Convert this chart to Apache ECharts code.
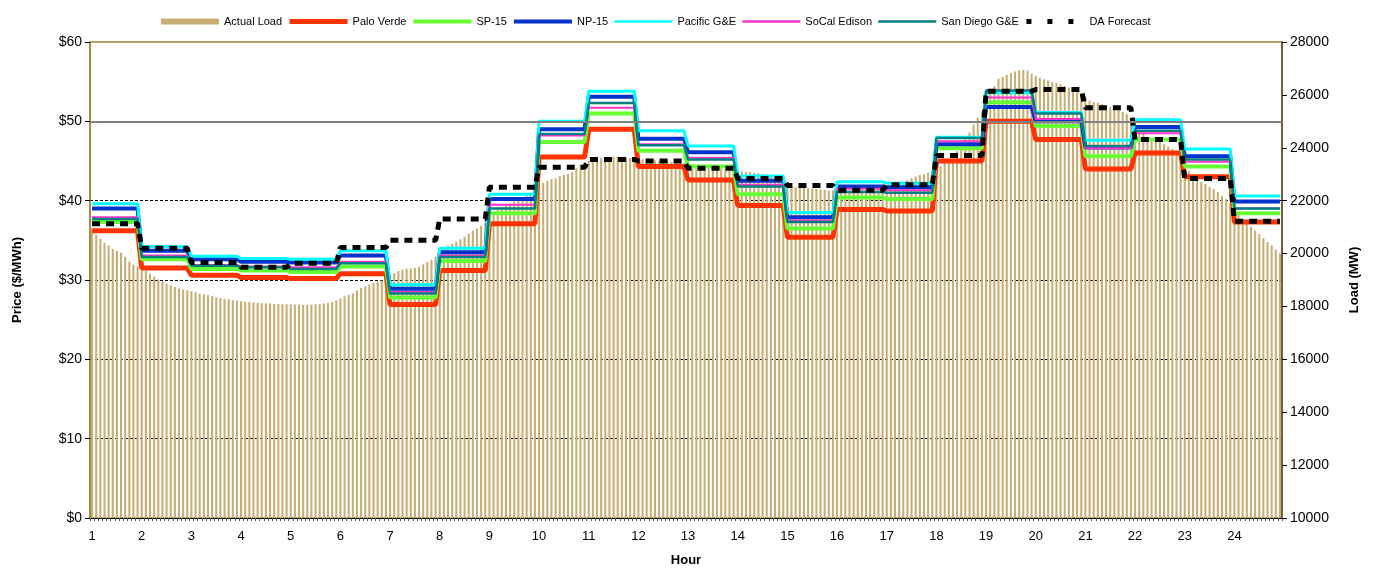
<!DOCTYPE html>
<html>
<head>
<meta charset="utf-8">
<script src="https://cdn.jsdelivr.net/npm/echarts@6/dist/echarts.min.js"></script>
<style>
  html, body { margin: 0; padding: 0; background: #fff; }
  #chart { width: 1377px; height: 572px; }
</style>
</head>
<body>
<div id="chart"></div>
<script>
// hour tick labels; load is sampled every 5 minutes (12 bars per hour)
const hours = [1, 2, 3, 4, 5, 6, 7, 8, 9, 10, 11, 12, 13, 14, 15, 16, 17, 18, 19, 20, 21, 22, 23, 24];

// Actual Load (MW), 12 readings per hour
const actualLoad = [
  20940, 20710, 20560, 20410, 20300, 20180, 20110, 20030, 19880, 19700, 19580, 19510,
  19430, 19340, 19240, 19130, 19020, 18940, 18870, 18790, 18740, 18680, 18640, 18610,
  18580, 18540, 18490, 18460, 18430, 18390, 18340, 18320, 18290, 18270, 18240, 18220,
  18200, 18180, 18170, 18150, 18140, 18120, 18120, 18110, 18100, 18090, 18080, 18080,
  18080, 18070, 18070, 18060, 18060, 18070, 18080, 18090, 18110, 18130, 18170, 18230,
  18300, 18380, 18440, 18490, 18610, 18700, 18760, 18830, 18890, 18930, 18980, 19060,
  19170, 19260, 19340, 19390, 19430, 19430, 19460, 19500, 19590, 19680, 19770, 19880,
  20000, 20150, 20300, 20370, 20450, 20540, 20640, 20750, 20860, 20950, 21050, 21160,
  21350, 21500, 21650, 21760, 21840, 21890, 21970, 22040, 22120, 22190, 22290, 22400,
  22590, 22680, 22750, 22810, 22850, 22920, 22970, 23010, 23080, 23230, 23360, 23440,
  23500, 23560, 23590, 23620, 23630, 23640, 23650, 23650, 23640, 23630, 23620, 23600,
  23590, 23570, 23550, 23530, 23530, 23510, 23490, 23490, 23470, 23450, 23430, 23420,
  23400, 23380, 23360, 23340, 23320, 23300, 23280, 23270, 23230, 23190, 23170, 23150,
  23120, 23100, 23080, 23080, 23060, 23040, 23020, 23000, 22970, 22890, 22780, 22660,
  22570, 22550, 22530, 22510, 22500, 22480, 22460, 22440, 22420, 22400, 22380, 22380,
  22380, 22380, 22380, 22380, 22380, 22400, 22400, 22420, 22440, 22460, 22480, 22500,
  22510, 22550, 22590, 22650, 22700, 22780, 22850, 22910, 22970, 23000, 23060, 23120,
  23190, 23300, 23420, 23530, 23680, 23870, 24050, 24320, 24580, 24880, 25140, 25370,
  25670, 26050, 26330, 26610, 26690, 26750, 26830, 26880, 26930, 26950, 26920, 26800,
  26710, 26650, 26590, 26550, 26490, 26450, 26400, 26340, 26280, 26220, 26110, 26070,
  25930, 25790, 25730, 25700, 25650, 25590, 25550, 25500, 25440, 25350, 25280, 25110,
  24810, 24660, 24520, 24410, 24340, 24280, 24220, 24130, 24040, 23950, 23860, 23720,
  23450, 23120, 22970, 22830, 22720, 22630, 22530, 22440, 22330, 22190, 22060, 21910,
  21690, 21460, 21270, 21140, 21010, 20870, 20730, 20580, 20440, 20310, 20150, 20000
];

// hourly prices ($/MWh)
const paloVerde   = [36.2, 31.5, 30.6, 30.3, 30.2, 30.8, 26.9, 31.2, 37.1, 45.5, 49.0, 44.3, 42.6, 39.4, 35.4, 38.9, 38.7, 45.0, 50.0, 47.7, 44.0, 46.0, 43.0, 37.3];
const sp15        = [37.3, 32.6, 31.4, 31.2, 31.0, 31.7, 27.8, 32.4, 38.4, 47.4, 51.0, 46.3, 44.3, 40.8, 36.5, 40.4, 40.2, 46.6, 52.4, 49.4, 45.6, 47.7, 44.3, 38.4];
const np15        = [39.0, 33.7, 32.6, 32.3, 32.2, 33.1, 28.9, 33.5, 40.2, 49.0, 53.1, 47.8, 46.1, 42.5, 37.9, 41.8, 41.7, 47.1, 51.8, 50.0, 46.7, 49.3, 45.6, 39.9];
const pacificGE   = [39.6, 34.2, 33.0, 32.7, 32.6, 33.7, 29.4, 34.0, 40.8, 50.0, 53.8, 48.8, 46.9, 43.1, 38.5, 42.4, 42.2, 48.0, 53.6, 51.1, 47.6, 50.2, 46.5, 40.6];
const socalEdison = [37.9, 33.1, 31.9, 31.7, 31.6, 32.3, 28.5, 33.1, 39.5, 48.2, 51.7, 47.1, 45.4, 42.0, 37.5, 41.5, 41.3, 47.5, 53.0, 50.3, 46.6, 48.5, 44.9, 39.0];
const sanDiegoGE  = [37.7, 32.9, 31.8, 31.6, 31.4, 32.1, 28.3, 32.9, 39.0, 48.4, 52.3, 47.0, 45.2, 41.8, 37.3, 41.1, 41.0, 47.9, 53.9, 51.0, 46.9, 48.8, 45.2, 39.0];
const daForecast  = [37.1, 34.0, 32.2, 31.6, 32.1, 34.1, 35.0, 37.7, 41.7, 44.2, 45.2, 45.0, 44.1, 42.8, 41.9, 41.3, 42.0, 45.7, 53.8, 54.0, 51.7, 47.7, 42.8, 37.4];

const PER_HOUR = 12;
const categories = actualLoad.map((_, i) => String(hours[Math.floor(i / PER_HOUR)]));
// an hourly price holds for all 12 five-minute slots of its hour
const toSlots = (hourly) => hourly.flatMap((v) => Array(PER_HOUR).fill(v));

const FONT = "Liberation Sans, Arial, sans-serif";
const DASH = [8, 6];

const priceLine = (name, data, color, width, extra = {}) => ({
  name,
  type: "line",
  yAxisIndex: 0,
  data: toSlots(data),
  symbol: "none",
  lineStyle: { color, width, ...extra },
  itemStyle: { color },
  emphasis: { disabled: true },
});

// line legend entries: keep the line sample at its own width, hide the marker
const lineKey = (name, width, extra = {}) => ({
  name,
  itemStyle: { opacity: 0 },
  lineStyle: { width, ...extra },
});

const chart = echarts.init(document.getElementById("chart"), null, { renderer: "canvas" });

chart.setOption({
  animation: false,
  backgroundColor: "#fff",
  textStyle: { fontFamily: FONT },
  legend: {
    top: 11,
    left: 156,
    itemWidth: 58,
    itemHeight: 6,
    itemGap: 5,
    textStyle: { fontSize: 11, color: "#000", fontFamily: FONT },
    data: [
      { name: "Actual Load", icon: "rect" },
      lineKey("Palo Verde", 5), lineKey("SP-15", 4), lineKey("NP-15", 4),
      lineKey("Pacific G&E", 2.5), lineKey("SoCal Edison", 2.5), lineKey("San Diego G&E", 2.5),
      lineKey("DA Forecast", 5, { type: [5, 16] }),
    ],
  },
  grid: {
    left: 90, right: 95, top: 42, bottom: 51,
    show: true, borderColor: "#A0803C", borderWidth: 1.5,
  },
  xAxis: {
    type: "category",
    data: categories,
    boundaryGap: true,
    name: "Hour",
    nameLocation: "middle",
    nameGap: 36,
    nameTextStyle: { fontSize: 13, fontWeight: "bold", color: "#000" },
    axisLine: { lineStyle: { color: "#000", width: 1 } },
    axisTick: { show: true, interval: 0, length: 3, lineStyle: { color: "#555" } },
    axisLabel: { interval: PER_HOUR - 1, fontSize: 13, color: "#000", margin: 12 },
    splitLine: { show: false },
  },
  yAxis: [
    {
      type: "value",
      min: 0, max: 60, interval: 10,
      name: "Price ($/MWh)",
      nameLocation: "middle",
      nameGap: 66,
      nameTextStyle: { fontSize: 13, fontWeight: "bold", color: "#000" },
      axisLine: { show: true, lineStyle: { color: "#A0803C", width: 1.5 } },
      axisTick: { show: true, length: 5, lineStyle: { color: "#000" } },
      axisLabel: { fontSize: 14, color: "#000", margin: 8, formatter: (v) => "$" + v },
      // $0 is the axis, $50 is the solid grey rule, $60 is the frame
      splitLine: {
        show: true,
        lineStyle: {
          color: ["transparent", "#000", "#000", "#000", "#000", "transparent", "transparent"],
          width: 1, type: [3, 2],
        },
      },
    },
    {
      type: "value",
      min: 10000, max: 28000, interval: 2000,
      name: "Load (MW)",
      nameLocation: "middle",
      nameGap: 66,
      nameTextStyle: { fontSize: 13, fontWeight: "bold", color: "#000" },
      axisLine: { show: true, lineStyle: { color: "#5E4B2A", width: 1.5 } },
      axisTick: { show: true, length: 5, lineStyle: { color: "#000" } },
      axisLabel: { fontSize: 14, color: "#000", margin: 8, formatter: (v) => String(v) },
      splitLine: { show: false },
    },
  ],
  series: [
    {
      name: "Actual Load",
      type: "bar",
      yAxisIndex: 1,
      data: actualLoad,
      barWidth: "50%",
      itemStyle: { color: "#C9AE73" },
      emphasis: { disabled: true },
      z: 1,
    },
    {
      ...priceLine("Palo Verde", paloVerde, "#FF3300", 5),
      markLine: {
        silent: true,
        symbol: "none",
        label: { show: false },
        lineStyle: { color: "#808080", width: 2, type: "solid" },
        data: [{ yAxis: 50 }],
      },
    },
    priceLine("SP-15", sp15, "#66FF33", 4),
    priceLine("NP-15", np15, "#0033CC", 4),
    priceLine("Pacific G&E", pacificGE, "#00FFFF", 3),
    priceLine("SoCal Edison", socalEdison, "#FF33CC", 2),
    priceLine("San Diego G&E", sanDiegoGE, "#008080", 2.5),
    priceLine("DA Forecast", daForecast, "#000000", 5, { type: DASH }),
  ],
});
</script>
</body>
</html>
